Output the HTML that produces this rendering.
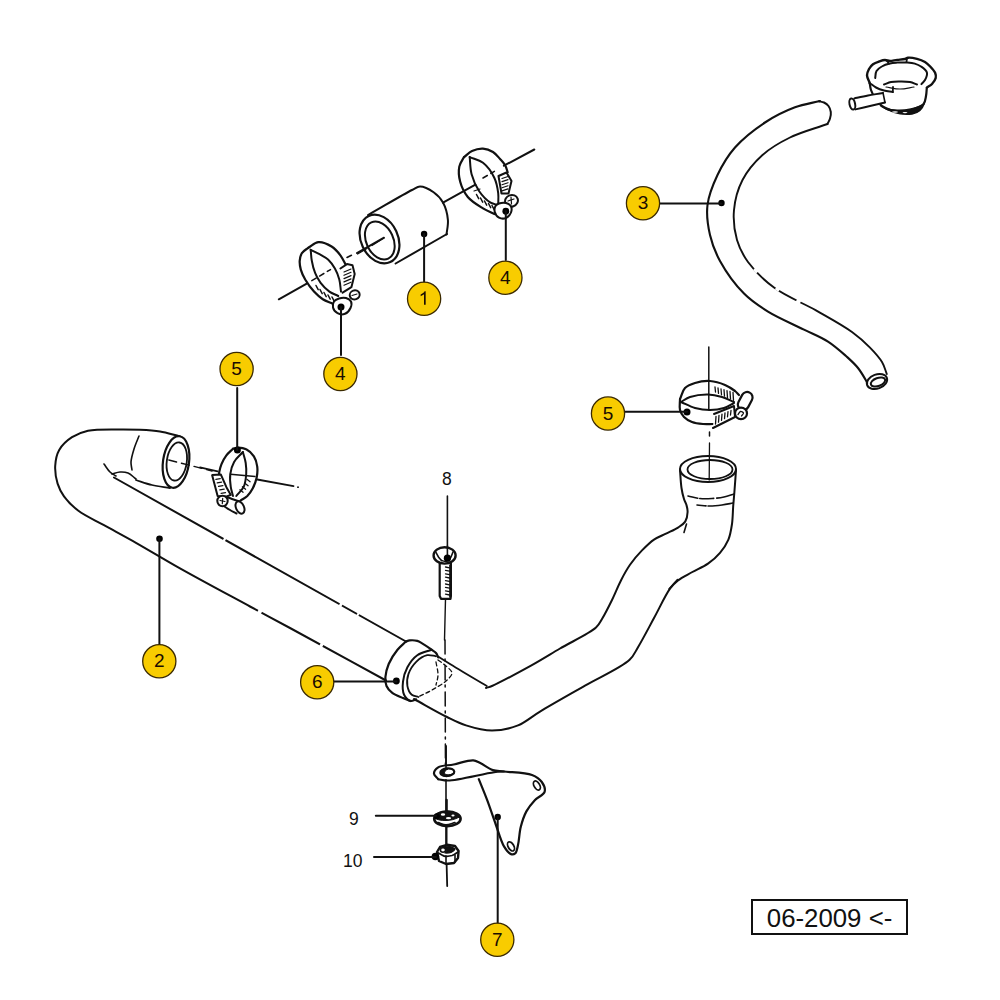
<!DOCTYPE html>
<html><head><meta charset="utf-8"><style>
html,body{margin:0;padding:0;background:#fff;}
body{width:1000px;height:1000px;overflow:hidden;position:relative;font-family:"Liberation Sans",sans-serif;}
svg{position:absolute;left:0;top:0;}
.stamp{position:absolute;left:750.7px;top:898.8px;width:157px;height:36px;box-sizing:border-box;border:2.7px solid #111;}
</style></head><body>
<svg width="1000" height="1000" viewBox="0 0 1000 1000" stroke="#111" stroke-linecap="round" stroke-linejoin="round" style="font-family:'Liberation Sans',sans-serif">
<path d="M180.0,436.4 C173.3,434.8 166.7,432.6 160.0,431.5 C153.4,430.4 146.7,430.1 140.0,429.8 C133.3,429.5 127.4,429.3 120.0,429.4 C110.6,429.5 96.7,428.9 88.0,430.8 C81.6,432.2 76.8,434.1 72.0,437.2 C67.1,440.4 62.0,445.1 59.2,450.0 C56.5,454.7 55.5,460.5 55.2,466.0 C54.9,471.7 56.0,478.3 57.6,483.6 C59.1,488.3 61.0,492.2 64.0,496.4 C67.6,501.4 72.6,506.4 78.4,510.8 C85.4,516.1 95.0,520.2 104.0,525.2 C114.1,530.8 124.5,536.3 136.0,542.8 C149.5,550.5 163.6,559.1 180.0,568.4 C200.6,580.0 229.9,595.6 250.0,606.5 C265.2,614.7 273.8,619.2 290.0,628.0 C315.1,641.6 354.0,663.0 386.0,680.5" stroke-width="2" fill="none" />
<path d="M114.0,477.5 L406.0,641.5" stroke-width="2" fill="none" />
<path d="M104.0,464.0 C106.0,466.7 107.8,469.9 110.0,472.0 C111.9,473.8 114.0,474.7 116.0,476.0" stroke-width="1.6" fill="none" />
<path d="M112.0,474.0 C114.7,473.3 117.3,472.2 120.0,472.0 C122.7,471.8 125.5,472.0 128.0,473.0 C130.8,474.1 133.3,477.0 136.0,479.0" stroke-width="1.6" fill="none" />
<path d="M170.0,488.0 C164.0,487.0 157.8,486.4 152.0,485.0 C146.5,483.7 141.3,481.7 136.0,480.0" stroke-width="1.8" fill="none" />
<path d="M139.0,436.0 C137.3,440.3 135.3,444.6 134.0,449.0 C132.7,453.3 131.2,458.2 131.0,462.0 C130.8,465.0 131.7,467.3 132.0,470.0" stroke-width="1.6" fill="none" />
<ellipse cx="176" cy="462" rx="13" ry="26" transform="rotate(8 176 462)" stroke-width="2.2" fill="#fff" />
<ellipse cx="176.8" cy="461.5" rx="10" ry="19.2" transform="rotate(8 176.8 461.5)" stroke-width="1.8" fill="none" />
<path d="M438.0,656.5 C443.9,660.2 448.9,663.4 455.6,667.5 C464.5,672.9 476.4,679.8 486.8,686.0" stroke-width="1.8" fill="none" />
<path d="M486.0,688.0 C488.0,687.3 489.2,687.2 492.0,686.0 C499.4,682.9 519.0,672.2 531.0,665.6 C541.5,659.8 549.8,654.5 560.0,648.5 C571.3,641.9 589.3,633.7 596.0,627.6 C599.3,624.5 599.9,622.5 602.0,619.0 C605.1,614.0 608.8,606.5 612.0,600.0 C615.2,593.5 618.0,586.1 621.2,580.0 C624.0,574.5 626.6,569.7 630.0,564.8 C633.5,559.8 637.8,554.7 642.0,550.4 C645.9,546.4 649.8,542.5 654.0,539.6 C657.8,537.0 662.0,535.6 666.0,533.6 C670.0,531.6 674.6,529.8 678.0,527.6 C680.8,525.7 683.6,524.1 685.2,521.6 C686.8,519.0 687.5,515.0 687.6,512.0 C687.7,509.4 687.0,507.0 686.4,504.8 C685.8,502.7 684.7,501.3 684.0,499.0 C683.0,495.9 682.1,492.1 681.5,488.0 C680.7,482.8 680.5,476.0 680.0,470.0" stroke-width="2" fill="none" />
<line x1="684" y1="532.4" x2="686.5" y2="524" stroke-width="1.6" />
<path d="M414.0,699.0 C425.0,705.0 437.4,712.3 447.0,717.0 C454.1,720.5 459.0,723.2 466.0,725.4 C473.9,727.9 483.3,730.6 492.0,730.6 C500.7,730.6 510.0,728.6 518.0,725.4 C526.0,722.2 531.3,716.8 540.0,711.6 C552.3,704.2 570.0,694.3 585.0,685.7 C599.9,677.1 621.0,667.9 629.6,659.8 C634.2,655.4 634.9,652.4 638.0,647.2 C642.6,639.6 648.7,627.8 654.0,618.0 C659.4,608.2 665.4,594.9 670.2,588.4 C673.0,584.6 674.8,582.9 678.0,580.4 C681.9,577.3 687.5,574.8 692.4,572.0 C697.5,569.2 703.3,566.9 708.0,563.6 C712.5,560.5 716.6,556.8 720.0,552.8 C723.4,548.8 726.4,544.4 728.4,539.6 C730.4,534.8 731.2,529.4 732.0,524.0 C732.8,518.2 732.8,511.6 733.2,506.0 C733.6,501.0 734.0,497.2 734.4,492.0 C734.9,485.5 735.5,477.3 736.0,470.0" stroke-width="2" fill="none" />
<line x1="669" y1="589" x2="677.5" y2="579.5" stroke-width="1.6" />
<ellipse cx="708" cy="469" rx="28" ry="13" transform="rotate(0 708 469)" stroke-width="2" fill="#fff" />
<ellipse cx="710" cy="469.5" rx="22.5" ry="9.5" transform="rotate(0 710 469.5)" stroke-width="1.8" fill="none" />
<path d="M688.0,496.0 C692.0,496.8 696.0,498.1 700.0,498.5 C704.0,498.9 708.0,498.7 712.0,498.5 C716.0,498.3 720.2,497.8 724.0,497.0 C727.5,496.3 730.7,495.0 734.0,494.0" stroke-width="1.6" fill="none" stroke-dasharray="10 2 14 3 30"/>
<path d="M697.0,505.0 C701.3,505.3 705.8,506.0 710.0,506.0 C714.1,506.0 718.1,505.5 722.0,505.0 C725.8,504.5 729.3,503.7 733.0,503.0" stroke-width="1.6" fill="none" stroke-dasharray="9 2 30"/>
<path d="M406.0,641.5 C403.2,644.2 400.2,646.4 397.5,649.7 C394.3,653.6 390.7,659.2 388.7,664.0 C386.9,668.3 385.7,673.0 385.4,677.0 C385.2,680.3 385.4,683.4 386.5,686.0 C387.6,688.6 389.6,690.7 392.0,692.6 C394.9,694.9 399.6,696.5 403.0,698.0 C405.8,699.2 408.1,700.0 410.7,701.0" stroke-width="2.2" fill="none" />
<path d="M406.0,641.5 C407.2,641.1 408.2,640.6 409.6,640.4 C411.7,640.2 415.1,640.3 417.3,640.9 C419.0,641.4 420.0,642.1 421.7,643.1 C424.4,644.7 429.0,647.8 431.6,649.7 C433.4,651.0 434.9,651.7 436.0,653.0 C437.1,654.3 437.5,655.9 438.2,657.4" stroke-width="2.2" fill="none" />
<path d="M431.6,649.7 C426.8,651.5 421.3,652.3 417.3,655.2 C413.2,658.1 409.8,662.8 407.4,667.3 C405.1,671.7 403.5,676.9 403.0,681.6 C402.5,686.0 402.5,691.4 404.1,694.8 C405.4,697.6 408.4,700.5 410.7,701.0 C412.5,701.4 414.4,699.8 416.2,699.2" stroke-width="2" fill="none" />
<path d="M436.0,656.3 C433.1,655.9 430.2,654.6 427.2,655.2 C423.6,656.0 419.3,658.8 416.2,661.8 C413.0,665.0 409.9,669.7 408.5,673.9 C407.2,677.8 406.7,682.4 407.4,686.0 C408.0,689.3 409.7,693.0 411.8,694.8 C413.6,696.3 416.2,696.3 418.4,697.0" stroke-width="1.8" fill="none" />
<path d="M438.0,660.0 C440.7,662.0 443.6,663.8 446.0,666.0 C448.3,668.1 451.9,670.6 452.0,673.0 C452.1,675.5 448.7,678.5 446.0,681.0 C442.5,684.2 436.7,687.3 432.0,690.0 C427.4,692.6 422.7,694.7 418.0,697.0" stroke-width="1.3" fill="none" stroke-dasharray="4 3"/>
<path d="M436.0,662.0 C436.7,666.3 438.1,671.0 438.0,675.0 C437.9,678.6 436.7,681.7 436.0,685.0" stroke-width="1.3" fill="none" stroke-dasharray="4 3"/>
<line x1="445.5" y1="599" x2="444.5" y2="640" stroke-width="1.4" />
<line x1="445" y1="640" x2="445.5" y2="780" stroke-width="1.5" stroke-dasharray="14 5 2 5"/>
<line x1="446" y1="746" x2="446" y2="845" stroke-width="1.6" />
<line x1="447.4" y1="496" x2="447.4" y2="556" stroke-width="1.6" />
<path d="M439.7,560.0 L439.7,596.0 L441.0,598.8 L450.5,598.8 L450.9,596.0 L450.9,560.0" stroke-width="2.2" fill="#fff" />
<ellipse cx="444.6" cy="555.4" rx="11" ry="8.2" transform="rotate(0 444.6 555.4)" stroke-width="2.4" fill="#fff" />
<path d="M436.0,552.5 C436.8,554.0 437.6,555.6 438.5,557.0 C439.4,558.3 440.5,559.3 441.5,560.5" stroke-width="1.6" fill="none" />
<path d="M453.0,552.0 C452.3,553.7 451.7,555.5 451.0,557.0 C450.4,558.3 449.7,559.3 449.0,560.5" stroke-width="1.6" fill="none" />
<path d="M441.5,560.5 C442.8,560.8 444.2,561.5 445.5,561.5 C446.7,561.5 447.8,560.8 449.0,560.5" stroke-width="1.4" fill="none" />
<line x1="447.4" y1="546" x2="447.4" y2="556" stroke-width="1.6" />
<line x1="445.5" y1="567.0" x2="449.5" y2="567.8" stroke-width="1.3" />
<line x1="445.5" y1="570.4" x2="449.5" y2="571.1999999999999" stroke-width="1.3" />
<line x1="445.5" y1="573.8" x2="449.5" y2="574.5999999999999" stroke-width="1.3" />
<line x1="445.5" y1="577.2" x2="449.5" y2="578.0" stroke-width="1.3" />
<line x1="445.5" y1="580.6" x2="449.5" y2="581.4" stroke-width="1.3" />
<line x1="445.5" y1="584.0" x2="449.5" y2="584.8" stroke-width="1.3" />
<line x1="445.5" y1="587.4" x2="449.5" y2="588.1999999999999" stroke-width="1.3" />
<line x1="445.5" y1="590.8" x2="449.5" y2="591.5999999999999" stroke-width="1.3" />
<line x1="445.5" y1="594.2" x2="449.5" y2="595.0" stroke-width="1.3" />
<line x1="449.8" y1="565" x2="449.8" y2="597" stroke-width="1.2" />
<circle cx="447.4" cy="558.2" r="3.6" fill="#000" stroke="none"/>
<path d="M438.2,779.2 C436.8,777.3 434.1,775.5 434.0,773.6 C433.9,771.6 435.9,768.8 438.2,767.3 C441.5,765.1 448.2,765.6 453.6,764.5 C459.7,763.3 468.4,759.9 473.2,760.3 C476.2,760.6 477.6,761.9 480.2,763.1 C483.8,764.8 488.6,768.7 492.8,770.1 C496.5,771.3 499.4,770.9 504.0,771.5 C511.2,772.4 525.3,772.4 532.0,775.0 C536.4,776.7 539.7,779.0 541.8,782.0 C543.7,784.7 545.5,788.9 544.6,791.8 C543.6,795.1 537.8,797.0 534.8,800.2 C531.7,803.5 528.7,807.2 526.4,811.4 C523.9,816.0 522.2,821.4 520.8,826.8 C519.3,832.5 519.2,840.1 518.0,845.0 C517.2,848.4 516.8,852.1 515.2,853.4 C514.1,854.3 512.4,854.6 511.0,854.1 C508.8,853.3 506.1,849.9 504.0,846.4 C500.8,841.1 498.4,831.6 495.6,824.0 C492.8,816.2 490.1,807.9 487.2,800.2 C484.5,793.0 481.6,786.2 478.8,779.2" stroke-width="2.2" fill="#fff" />
<path d="M438.2,779.2 C441.5,779.7 443.5,780.7 448.0,780.6 C457.7,780.4 484.5,773.4 494.2,772.2 C498.7,771.6 500.7,771.7 504.0,771.5" stroke-width="2" fill="none" />
<ellipse cx="447.3" cy="772.2" rx="7" ry="3.8" transform="rotate(-5 447.3 772.2)" stroke-width="2.2" fill="none" />
<path d="M441,773 C441.5,769.5 445,768.8 448,769 C446,770 444,771.5 444.5,773.5 C446,775.5 450,775 453,773.8 C451,776.5 446,777 443,776 C441.5,775.3 441,774 441,773Z" stroke-width="1" fill="#111" />
<line x1="446" y1="746" x2="446" y2="769" stroke-width="1.6" />
<ellipse cx="536.9" cy="785.5" rx="2.8" ry="5" transform="rotate(-30 536.9 785.5)" stroke-width="1.8" fill="none" />
<ellipse cx="511" cy="846.4" rx="2.8" ry="5" transform="rotate(-30 511 846.4)" stroke-width="1.8" fill="none" />
<circle cx="497.7" cy="817" r="3.2" fill="#000" stroke="none"/>
<line x1="497.7" y1="817" x2="497.7" y2="923" stroke-width="2" />
<ellipse cx="447.4" cy="818.8" rx="13.2" ry="7.3" transform="rotate(0 447.4 818.8)" stroke-width="2.6" fill="#fff" />
<path d="M435,818 C435,812.5 441,811.2 447,811.2 C453,811.2 458,813 459.5,817 C455,819.5 450,820.5 446,820.5 C441,820.5 437,820 435,818Z" stroke-width="1" fill="#111" />
<ellipse cx="443" cy="814.5" rx="2.2" ry="1.2" transform="rotate(0 443 814.5)" stroke-width="0" fill="#fff" />
<ellipse cx="448.5" cy="818.2" rx="2.6" ry="1.1" transform="rotate(0 448.5 818.2)" stroke-width="0" fill="#fff" />
<ellipse cx="453" cy="815.5" rx="1.6" ry="1" transform="rotate(0 453 815.5)" stroke-width="0" fill="#fff" />
<path d="M438.0,822.5 C440.7,823.3 443.2,824.8 446.0,824.8 C448.9,824.8 452.0,823.3 455.0,822.5" stroke-width="1.6" fill="none" />
<circle cx="436.8" cy="816.3" r="3" fill="#000" stroke="none"/>
<line x1="375.8" y1="815.8" x2="436" y2="815.8" stroke-width="2" />
<line x1="446.6" y1="800" x2="446.6" y2="811" stroke-width="2.4" />
<path d="M437.0,852.0 L440.0,847.0 L447.0,844.8 L455.0,846.0 L458.6,851.0 L458.0,858.0 L454.0,863.0 L446.0,864.0 L439.0,861.0Z" stroke-width="2.4" fill="#fff" />
<path d="M438.5,853.0 C440.3,854.0 441.9,855.5 444.0,856.0 C446.4,856.5 449.6,856.2 452.0,855.5 C454.2,854.8 456.0,853.2 458.0,852.0" stroke-width="1.8" fill="none" />
<line x1="446" y1="856" x2="446" y2="863.5" stroke-width="1.6" />
<line x1="455" y1="855" x2="455" y2="862" stroke-width="1.6" />
<path d="M443,847 C446,845.5 452,846 455,849 C454,852 449,853.5 445,853 C447,851 447,849 443,847Z" stroke-width="1.2" fill="#111" />
<ellipse cx="443" cy="850" rx="2.6" ry="2.2" transform="rotate(0 443 850)" stroke-width="1.6" fill="none" />
<circle cx="435.4" cy="856.5" r="3.8" fill="#000" stroke="none"/>
<line x1="374" y1="857" x2="436" y2="857" stroke-width="2" />
<line x1="446.6" y1="827" x2="446.6" y2="845" stroke-width="1.8" />
<line x1="446.6" y1="864" x2="447.2" y2="886" stroke-width="1.8" />
<path d="M820.0,101.0 C811.7,103.1 803.5,104.1 795.0,107.3 C785.3,110.9 774.7,116.1 765.0,122.5 C754.6,129.3 743.1,138.3 735.0,147.5 C727.6,155.9 722.1,165.3 717.5,175.0 C713.0,184.5 708.7,194.9 707.5,205.0 C706.3,214.9 707.8,225.5 710.0,235.0 C712.1,244.1 715.2,252.2 720.0,261.0 C725.8,271.6 735.3,284.8 744.0,293.6 C751.5,301.2 758.9,306.0 768.0,311.6 C778.5,318.1 793.2,324.2 804.0,329.6 C812.8,334.0 820.8,337.0 828.0,341.6 C834.7,345.9 840.7,351.3 846.0,356.0 C850.5,360.1 854.6,363.7 858.0,368.0 C861.3,372.1 864.5,377.9 866.4,381.2 C867.5,383.2 868.0,384.4 868.8,386.0" stroke-width="2.1" fill="none" />
<path d="M827.5,124.0 C815.0,128.5 801.3,132.0 790.0,137.5 C779.8,142.5 770.4,147.9 762.5,155.0 C754.6,162.1 747.3,170.8 742.5,180.0 C737.8,189.1 734.9,199.9 734.0,210.0 C733.1,219.9 734.4,231.0 737.0,240.0 C739.4,248.1 742.8,254.8 748.0,262.0 C754.4,270.8 763.7,279.9 774.0,287.6 C785.8,296.4 802.6,302.8 816.0,310.4 C828.5,317.6 842.3,325.0 852.0,332.0 C859.3,337.3 864.8,342.3 870.0,347.6 C874.6,352.3 879.1,357.2 882.0,362.0 C884.4,366.0 885.2,370.0 886.8,374.0" stroke-width="1.9" fill="none" />
<path d="M819.0,101.3 C820.7,101.7 822.5,101.8 824.0,102.5 C825.6,103.3 827.4,104.5 828.5,106.0 C829.7,107.6 830.5,109.9 830.8,112.0 C831.1,114.1 830.6,116.5 830.0,118.5 C829.4,120.5 828.3,122.2 827.5,124.0" stroke-width="2" fill="none" />
<ellipse cx="877" cy="381.5" rx="10.5" ry="7" transform="rotate(-20 877 381.5)" stroke-width="2" fill="#fff" />
<ellipse cx="878" cy="382" rx="7.5" ry="4" transform="rotate(-20 878 382)" stroke-width="2" fill="none" />
<circle cx="721.5" cy="203" r="3.2" fill="#000" stroke="none"/>
<line x1="660" y1="203.4" x2="721.5" y2="203.4" stroke-width="2" />
<path d="M869.7,83.0 C870.1,85.3 870.2,87.6 871.0,90.0 C871.9,92.6 873.3,95.4 875.0,98.0 C876.8,100.8 879.0,103.9 881.8,106.0 C884.7,108.1 888.6,109.6 892.0,110.5 C895.2,111.4 898.2,111.8 901.6,111.6 C905.5,111.4 910.2,110.4 914.0,109.0 C917.5,107.7 921.6,106.4 923.6,104.0 C925.3,101.9 925.5,98.8 926.0,96.0 C926.6,93.0 926.6,89.5 926.9,86.3" stroke-width="2.2" fill="#fff" />
<path d="M881,106 C890,112 900,115.5 912,114 C918,113 922,110 924,104 C918,108 905,111 895,110 C888,109.5 884,108 881,106Z" stroke-width="1.5" fill="#111" />
<ellipse cx="895" cy="112" rx="3" ry="0.8" transform="rotate(0 895 112)" stroke-width="0" fill="#fff" />
<ellipse cx="905" cy="112.6" rx="2.5" ry="0.7" transform="rotate(0 905 112.6)" stroke-width="0" fill="#fff" />
<path d="M869.7,83.0 C868.8,80.4 867.0,77.7 867.0,75.3 C867.0,73.1 868.0,70.9 869.0,69.0 C870.0,67.2 871.4,65.5 873.0,64.3 C874.7,63.0 877.0,62.2 879.0,61.5 C881.0,60.8 883.1,60.0 885.0,60.0 C886.7,60.0 888.2,61.0 890.0,61.0 C892.2,61.0 894.7,60.2 897.2,59.9 C899.7,59.6 903.0,59.5 905.0,59.0 C906.3,58.7 906.7,57.9 908.0,57.7 C910.2,57.4 914.1,58.1 917.0,58.8 C919.8,59.5 922.7,60.6 925.0,62.0 C927.0,63.2 928.6,64.8 930.2,66.5 C932.0,68.4 934.3,70.9 935.2,73.0 C935.9,74.7 936.1,76.3 935.7,78.0 C935.2,80.0 933.5,82.4 932.0,84.0 C930.6,85.5 928.6,86.3 926.9,87.5" stroke-width="2.4" fill="#fff" />
<line x1="886" y1="60" x2="889" y2="63.5" stroke-width="1.8" />
<line x1="907" y1="58" x2="906.5" y2="61.5" stroke-width="1.8" />
<path d="M875.2,78.0 C875.6,75.7 875.4,72.9 876.5,71.0 C877.6,69.1 879.7,67.7 881.8,66.5 C884.1,65.1 887.3,64.1 890.0,63.5 C892.4,62.9 894.7,62.8 897.2,62.6 C900.0,62.4 903.1,62.3 906.0,62.5 C908.9,62.7 912.2,62.8 914.8,63.6 C917.1,64.3 919.1,65.1 921.0,66.5 C923.1,68.0 926.3,70.2 926.9,72.5 C927.5,74.7 926.1,78.0 925.0,80.0 C924.1,81.7 922.6,82.7 921.4,84.1" stroke-width="2" fill="none" />
<path d="M869.7,83.0 C871.8,84.5 873.7,86.3 876.0,87.5 C878.4,88.8 881.2,89.8 884.0,90.5 C886.8,91.3 889.9,91.5 892.8,92.0" stroke-width="2" fill="none" />
<line x1="892.8" y1="92" x2="893" y2="87" stroke-width="1.8" />
<path d="M884.0,84.5 C886.3,83.7 888.5,82.5 891.0,82.0 C893.8,81.4 896.9,81.5 900.0,81.5 C903.2,81.5 907.0,81.4 910.0,82.0 C912.6,82.5 914.7,83.7 917.0,84.5" stroke-width="2" fill="none" />
<path d="M886.0,87.0 C890.7,87.7 895.3,89.0 900.0,89.0 C904.7,89.0 909.3,87.7 914.0,87.0" stroke-width="1.2" fill="none" />
<path d="M854.3,98.4 L883,92.9 L885,103 L855.4,109.4Z" stroke-width="0" fill="#fff" />
<path d="M854.3,98.4 C858.9,97.4 863.3,96.4 868.0,95.5 C872.9,94.6 878.0,93.8 883.0,92.9" stroke-width="2" fill="none" />
<path d="M855.4,109.4 C860.3,108.3 865.1,107.1 870.0,106.0 C875.0,104.8 880.0,103.7 885.0,102.5" stroke-width="2" fill="none" />
<line x1="883" y1="92.9" x2="885" y2="102.5" stroke-width="1.6" />
<ellipse cx="852.3" cy="104" rx="2.8" ry="5.6" transform="rotate(-12 852.3 104)" stroke-width="2" fill="#fff" />
<path d="M395.6,263.5 L447.0,234.0" stroke-width="2" fill="none" />
<path d="M368.0,215.0 C382.7,206.7 403.2,194.4 412.0,190.0 C415.7,188.2 417.0,186.5 420.0,186.5 C423.9,186.5 429.7,189.5 433.6,192.3 C437.4,195.0 440.8,198.5 443.1,202.7 C445.7,207.4 447.4,214.3 447.9,219.8 C448.4,224.8 447.0,229.6 446.5,234.5" stroke-width="2" fill="none" />
<ellipse cx="379.5" cy="239" rx="18.5" ry="25.5" transform="rotate(-25 379.5 239)" stroke-width="2.2" fill="#fff" />
<ellipse cx="379.8" cy="240.5" rx="13.5" ry="20" transform="rotate(-25 379.8 240.5)" stroke-width="2" fill="none" />
<line x1="357.6" y1="254" x2="367" y2="248.5" stroke-width="1.4" />
<line x1="372" y1="245.5" x2="384" y2="238" stroke-width="1.4" />
<line x1="443" y1="202.7" x2="475.4" y2="184.6" stroke-width="2" />
<circle cx="424.1" cy="234" r="3.2" fill="#000" stroke="none"/>
<line x1="424.1" y1="234" x2="424.1" y2="282" stroke-width="2" />
<line x1="483" y1="178" x2="494.4" y2="171.4" stroke-width="1.5" stroke-dasharray="5 4"/>
<line x1="503.9" y1="165.7" x2="534.3" y2="149.5" stroke-width="2" />
<path d="M464.0,157.1 C466.7,155.1 468.9,152.4 472.0,151.0 C475.2,149.5 479.4,148.4 483.0,148.6 C486.4,148.8 490.1,150.2 493.0,152.0 C495.8,153.7 498.0,156.7 500.1,159.0 C501.9,161.0 503.7,162.8 505.0,165.0 C506.3,167.2 506.8,169.9 507.7,172.3" stroke-width="2.2" fill="none" />
<path d="M464.0,157.1 C462.4,160.3 460.0,163.0 459.3,166.6 C458.4,171.0 458.9,176.9 460.2,181.8 C461.6,187.0 464.2,192.6 467.8,197.0 C471.6,201.6 478.2,205.4 483.0,208.4 C487.0,210.8 490.6,212.2 494.4,214.1" stroke-width="2.2" fill="none" />
<path d="M469.7,157.1 C470.3,162.8 470.1,168.6 471.6,174.2 C473.2,180.0 475.9,186.4 479.2,191.3 C482.3,195.8 486.9,200.5 490.6,202.7 C493.2,204.3 495.7,204.2 498.2,205.0" stroke-width="2" fill="none" />
<path d="M469.7,157.1 C474.1,159.0 479.1,159.7 483.0,162.8 C487.5,166.3 491.9,172.7 494.4,178.0 C496.7,182.8 497.6,188.4 498.2,193.2 C498.7,197.3 498.2,201.1 498.2,205.0" stroke-width="2" fill="none" />
<line x1="476.5" y1="194.5" x2="478.7" y2="198.7" stroke-width="1.5" />
<line x1="480.5" y1="198" x2="482.7" y2="202.2" stroke-width="1.5" />
<line x1="484.5" y1="201" x2="486.7" y2="205.2" stroke-width="1.5" />
<line x1="488.5" y1="203.5" x2="490.7" y2="207.7" stroke-width="1.5" />
<line x1="492" y1="205.5" x2="494.2" y2="209.7" stroke-width="1.5" />
<line x1="474" y1="191" x2="480" y2="189" stroke-width="1.2" />
<path d="M498.5,176.0 L506.5,172.5 L511.5,181.0 L508.5,193.5 L501.5,193.5Z" stroke-width="2" fill="#fff" />
<line x1="502" y1="178.5" x2="508" y2="176.5" stroke-width="1.2" />
<line x1="502" y1="181.6" x2="508" y2="179.6" stroke-width="1.2" />
<line x1="502" y1="184.7" x2="508" y2="182.7" stroke-width="1.2" />
<line x1="502" y1="187.8" x2="508" y2="185.8" stroke-width="1.2" />
<line x1="502" y1="190.9" x2="508" y2="188.9" stroke-width="1.2" />
<ellipse cx="511.5" cy="200.8" rx="6.5" ry="5.8" transform="rotate(-20 511.5 200.8)" stroke-width="2" fill="#fff" />
<line x1="508" y1="201" x2="514" y2="199" stroke-width="1.2" />
<line x1="511" y1="197" x2="511.5" y2="204" stroke-width="1.2" />
<path d="M495.5,206.0 C494.6,207.5 494.3,210.1 494.8,212.0 C495.3,214.0 497.1,216.6 499.0,217.6 C500.9,218.6 504.0,218.8 506.0,218.0 C508.0,217.2 510.2,214.5 511.0,212.5 C511.7,210.7 511.8,208.1 511.0,206.5 C510.2,204.9 507.9,203.5 506.0,203.0 C503.9,202.4 500.9,202.8 499.0,203.5 C497.5,204.0 496.2,204.8 495.5,206.0Z" stroke-width="2" fill="#fff" />
<circle cx="505.8" cy="211.25" r="3.4" fill="#000" stroke="none"/>
<line x1="505.8" y1="211.25" x2="505.8" y2="260" stroke-width="2" />
<line x1="278.8" y1="299.3" x2="306.3" y2="283.9" stroke-width="2" />
<line x1="311.8" y1="280.6" x2="330.5" y2="269.6" stroke-width="1.5" stroke-dasharray="5 4"/>
<line x1="347" y1="257.5" x2="351.4" y2="255.3" stroke-width="1.6" />
<line x1="356.9" y1="253.1" x2="384" y2="237.6" stroke-width="1.8" />
<path d="M308.5,247.6 C311.8,245.8 314.8,242.4 318.4,242.1 C322.4,241.7 327.9,244.2 331.6,246.5 C335.1,248.7 338.0,252.1 340.4,255.3 C342.7,258.4 344.1,261.9 345.9,265.2" stroke-width="2.2" fill="none" />
<path d="M308.5,247.6 C306.3,249.4 303.4,250.8 301.9,253.1 C300.5,255.3 299.9,258.1 299.7,260.8 C299.5,263.6 300.0,266.6 300.8,269.6 C301.7,272.9 303.3,276.1 305.2,279.5 C307.5,283.4 310.9,288.2 314.0,291.6 C316.8,294.6 319.6,297.3 322.8,299.3 C325.9,301.3 329.4,302.2 332.7,303.7" stroke-width="2.2" fill="none" />
<path d="M310.7,249.8 C311.1,253.5 311.1,257.1 311.8,260.8 C312.5,264.8 313.6,269.2 315.1,272.9 C316.5,276.5 318.3,279.7 320.6,282.8 C323.0,286.0 326.3,289.3 329.4,291.6 C332.2,293.6 335.3,294.5 338.2,296.0" stroke-width="2" fill="none" />
<path d="M310.7,249.8 C313.6,251.3 316.6,252.6 319.5,254.2 C322.5,255.9 325.8,257.4 328.3,259.7 C330.9,262.1 333.1,265.3 334.9,268.5 C336.8,271.8 338.3,275.7 339.3,279.5 C340.3,283.4 340.4,287.6 341.0,291.6" stroke-width="2" fill="none" />
<line x1="316" y1="285.5" x2="318.2" y2="289.7" stroke-width="1.5" />
<line x1="320" y1="289.5" x2="322.2" y2="293.7" stroke-width="1.5" />
<line x1="324" y1="292.5" x2="326.2" y2="296.7" stroke-width="1.5" />
<line x1="328" y1="295" x2="330.2" y2="299.2" stroke-width="1.5" />
<line x1="332" y1="297" x2="334.2" y2="301.2" stroke-width="1.5" />
<path d="M340.4,268.5 L347.0,264.1 L352.5,265.2 L354.7,274.0 L351.4,287.2 L342.6,292.7" stroke-width="2" fill="#fff" />
<line x1="344" y1="272.0" x2="351" y2="269.0" stroke-width="1.2" />
<line x1="344" y1="275.3" x2="351" y2="272.3" stroke-width="1.2" />
<line x1="344" y1="278.6" x2="351" y2="275.6" stroke-width="1.2" />
<line x1="344" y1="281.9" x2="351" y2="278.9" stroke-width="1.2" />
<line x1="344" y1="285.2" x2="351" y2="282.2" stroke-width="1.2" />
<ellipse cx="354.7" cy="294.9" rx="5" ry="4.5" transform="rotate(-20 354.7 294.9)" stroke-width="2" fill="#fff" />
<line x1="352" y1="295.5" x2="357" y2="294" stroke-width="1.1" />
<path d="M334.0,301.5 C333.0,303.0 332.5,305.6 333.0,307.5 C333.5,309.5 335.5,312.1 337.5,313.2 C339.5,314.3 342.9,314.6 345.0,313.8 C347.2,313.0 349.5,310.2 350.5,308.0 C351.4,306.0 351.8,303.2 351.0,301.5 C350.2,299.9 347.9,298.5 346.0,298.0 C343.9,297.4 341.1,297.8 339.0,298.5 C337.1,299.1 335.0,300.0 334.0,301.5Z" stroke-width="2" fill="#fff" />
<circle cx="341" cy="307" r="3.5" fill="#000" stroke="none"/>
<line x1="341" y1="307" x2="341" y2="355" stroke-width="2" />
<line x1="200" y1="467.4" x2="217.6" y2="471.3" stroke-width="1.8" />
<line x1="257.2" y1="479.5" x2="293.5" y2="486.1" stroke-width="1.8" />
<circle cx="298" cy="487.2" r="0.9" fill="#000" stroke="none"/>
<line x1="168.8" y1="460" x2="212" y2="471" stroke-width="1.4" stroke-dasharray="8 5"/>
<path d="M233.0,448.7 C234.8,448.3 236.5,447.6 238.5,447.6 C240.9,447.6 243.8,448.0 246.2,449.3 C249.0,450.7 252.1,453.6 253.9,456.4 C255.7,459.2 256.7,462.9 257.2,466.3 C257.7,469.8 257.4,473.7 256.7,477.3 C256.0,481.0 254.5,485.1 252.8,488.3 C251.3,491.2 249.4,493.9 247.3,496.0 C245.3,497.9 242.9,498.9 240.7,500.4" stroke-width="2.2" fill="none" />
<path d="M233.0,448.7 C230.8,450.9 228.3,452.8 226.4,455.3 C224.4,457.9 222.7,461.2 221.5,464.1 C220.4,466.7 219.8,469.3 219.3,471.8 C218.9,474.1 218.9,476.2 218.7,478.4" stroke-width="2.2" fill="none" />
<path d="M242.9,452.0 C240.0,455.3 236.2,458.2 234.1,461.9 C232.0,465.5 230.9,469.8 230.3,474.0 C229.7,478.3 230.2,483.3 230.8,487.2 C231.3,490.5 232.3,493.1 233.0,496.0" stroke-width="2" fill="none" />
<path d="M242.9,452.0 C243.8,455.7 245.2,459.3 245.7,463.0 C246.2,466.6 246.5,470.3 246.2,474.0 C245.9,478.0 245.6,482.4 244.0,486.1 C242.4,489.8 238.9,492.7 236.3,496.0" stroke-width="2" fill="none" />
<line x1="230.5" y1="474.2" x2="255" y2="476.5" stroke-width="1.4" />
<line x1="239.9" y1="489.8" x2="243.1" y2="492.2" stroke-width="1.3" />
<line x1="242.4" y1="486.8" x2="245.6" y2="489.2" stroke-width="1.3" />
<line x1="244.9" y1="483.3" x2="248.1" y2="485.7" stroke-width="1.3" />
<line x1="246.9" y1="479.3" x2="250.1" y2="481.7" stroke-width="1.3" />
<path d="M212.1,475.1 L220.9,474.6 L226.4,487.2 L230.8,494.9 L225.3,497.0 L217.6,496.0Z" stroke-width="2" fill="#fff" />
<line x1="215.88645000000002" y1="479.3" x2="220.28645" y2="478.7" stroke-width="1.2" />
<line x1="217.2007" y1="482.8" x2="221.6007" y2="482.2" stroke-width="1.2" />
<line x1="218.51495" y1="486.3" x2="222.91494999999998" y2="485.7" stroke-width="1.2" />
<line x1="219.82920000000001" y1="489.8" x2="224.2292" y2="489.2" stroke-width="1.2" />
<line x1="221.14345" y1="493.3" x2="225.54344999999998" y2="492.7" stroke-width="1.2" />
<path d="M225,496.5 L239.5,501.5 L236.5,513.5 L224.5,506.5Z" stroke-width="0" fill="#fff" />
<path d="M225.0,496.5 C227.3,497.3 229.6,498.2 232.0,499.0 C234.5,499.8 237.0,500.7 239.5,501.5" stroke-width="2" fill="none" />
<path d="M224.5,506.5 C226.3,507.7 228.1,508.9 230.0,510.0 C232.1,511.2 234.3,512.3 236.5,513.5" stroke-width="2" fill="none" />
<ellipse cx="240" cy="507.5" rx="4" ry="6.5" transform="rotate(-25 240 507.5)" stroke-width="2" fill="#fff" />
<ellipse cx="222.5" cy="501" rx="5.2" ry="5.2" transform="rotate(0 222.5 501)" stroke-width="2" fill="#fff" />
<line x1="220" y1="500.5" x2="225" y2="501.5" stroke-width="1.2" />
<line x1="222.7" y1="498.3" x2="222.3" y2="503.7" stroke-width="1.2" />
<circle cx="237.4" cy="450" r="3.5" fill="#000" stroke="none"/>
<line x1="237.2" y1="388" x2="237.2" y2="450" stroke-width="2" />
<line x1="708.8" y1="347" x2="708.8" y2="410" stroke-width="1.5" />
<line x1="709.5" y1="432" x2="709.5" y2="436" stroke-width="1.5" />
<path d="M680.0,399.0 C681.7,395.3 682.4,390.7 685.0,388.0 C687.5,385.4 691.2,384.2 695.0,383.0 C699.4,381.6 705.0,380.7 710.0,381.0 C715.0,381.3 720.6,383.1 725.0,385.0 C728.8,386.6 732.5,389.1 735.0,391.0 C736.7,392.4 737.7,393.7 739.0,395.0" stroke-width="2.2" fill="none" />
<path d="M680.0,399.0 C680.0,402.7 679.2,406.8 680.0,410.0 C680.7,412.7 682.1,415.0 684.0,417.0 C686.0,419.1 689.0,420.8 692.0,422.0 C695.3,423.3 699.4,423.7 703.0,424.0 C706.4,424.3 709.7,424.0 713.0,424.0" stroke-width="2.2" fill="none" />
<path d="M681.0,402.0 C684.0,400.3 686.3,398.2 690.0,397.0 C694.9,395.4 702.4,394.4 708.0,394.5 C713.0,394.6 717.6,395.7 722.0,397.0 C726.2,398.2 730.0,400.3 734.0,402.0" stroke-width="2" fill="none" />
<path d="M681.0,402.0 C685.7,404.0 690.2,406.7 695.0,408.0 C699.8,409.3 705.1,410.0 710.0,410.0 C714.7,410.0 719.8,409.3 724.0,408.0 C727.7,406.8 730.7,404.7 734.0,403.0" stroke-width="2" fill="none" />
<line x1="715" y1="387.0" x2="715.5" y2="392.0" stroke-width="1.3" />
<line x1="718" y1="387.9" x2="718.5" y2="393.4" stroke-width="1.3" />
<line x1="721" y1="388.8" x2="721.5" y2="394.8" stroke-width="1.3" />
<line x1="724" y1="389.7" x2="724.5" y2="396.2" stroke-width="1.3" />
<line x1="727" y1="390.6" x2="727.5" y2="397.6" stroke-width="1.3" />
<line x1="730" y1="391.5" x2="730.5" y2="399.0" stroke-width="1.3" />
<line x1="733" y1="392.4" x2="733.5" y2="400.4" stroke-width="1.3" />
<path d="M714.0,414.0 L734.0,406.0 L735.0,417.0 L713.0,428.0" stroke-width="2" fill="#fff" />
<line x1="716" y1="416.5" x2="715.5" y2="424.0" stroke-width="1.3" />
<line x1="719" y1="415.3" x2="718.5" y2="422.2" stroke-width="1.3" />
<line x1="722" y1="414.1" x2="721.5" y2="420.4" stroke-width="1.3" />
<line x1="725" y1="412.9" x2="724.5" y2="418.6" stroke-width="1.3" />
<line x1="728" y1="411.7" x2="727.5" y2="416.8" stroke-width="1.3" />
<line x1="731" y1="410.5" x2="730.5" y2="415.0" stroke-width="1.3" />
<rect x="-9.5" y="-5.5" width="19" height="11" rx="5.5" transform="translate(745.2,401) rotate(-62)" stroke-width="2.2" fill="#fff"/>
<ellipse cx="741" cy="413.4" rx="6" ry="5.8" transform="rotate(0 741 413.4)" stroke-width="2.2" fill="#fff" />
<path d="M738.0,414.5 C738.8,413.5 739.5,411.7 740.5,411.5 C741.4,411.3 743.3,412.3 743.5,413.0 C743.7,413.8 742.2,415.0 741.5,416.0" stroke-width="1.3" fill="none" />
<circle cx="687" cy="412" r="3.5" fill="#000" stroke="none"/>
<line x1="625" y1="411.8" x2="687" y2="411.8" stroke-width="2" />
<line x1="709.5" y1="443" x2="709.2" y2="480" stroke-width="1.3" />
<line x1="223.5" y1="539.0" x2="225.5" y2="540.1232876712329" stroke="#fff" stroke-width="4" stroke-linecap="butt"/>
<line x1="339.5" y1="604.1506849315068" x2="342" y2="605.554794520548" stroke="#fff" stroke-width="4" stroke-linecap="butt"/>
<line x1="357" y1="613.9794520547946" x2="358.8" y2="614.9904109589041" stroke="#fff" stroke-width="4" stroke-linecap="butt"/>
<line x1="258" y1="610.8456310679611" x2="261.5" y2="612.7502427184465" stroke="#fff" stroke-width="4" stroke-linecap="butt"/>
<line x1="320" y1="644.5844660194175" x2="322.8" y2="646.1081553398058" stroke="#fff" stroke-width="4" stroke-linecap="butt"/>
<line x1="754.5" y1="268.8" x2="757.5" y2="272.2" stroke="#fff" stroke-width="4" stroke-linecap="butt"/>
<line x1="776" y1="287.6" x2="779.5" y2="290.2" stroke="#fff" stroke-width="4" stroke-linecap="butt"/>
<line x1="796.5" y1="300.3" x2="800.5" y2="302.2" stroke="#fff" stroke-width="4" stroke-linecap="butt"/>
<circle cx="159.5" cy="538.8" r="3.3" fill="#000" stroke="none"/>
<line x1="159.4" y1="538.8" x2="159.4" y2="645" stroke-width="2" />
<circle cx="396.4" cy="681" r="3.4" fill="#000" stroke="none"/>
<line x1="334" y1="681.6" x2="396.4" y2="681.6" stroke-width="2" />
<circle cx="424.1" cy="298.8" r="16.6" fill="#F8CC00" stroke="#3b2a00" stroke-width="1.3"/>
<path transform="translate(418.60,304.80) scale(0.009277,-0.009277)" d="M763 0H583V1147Q518 1085 412.5 1023Q307 961 223 930V1104Q374 1175 487 1276Q600 1377 647 1472H763Z" fill="#1a0d00" stroke="none"/>
<circle cx="505.4" cy="277.7" r="16.6" fill="#F8CC00" stroke="#3b2a00" stroke-width="1.3"/>
<text x="505.4" y="283.7" text-anchor="middle" font-size="19" fill="#1a0d00" stroke="none">4</text>
<circle cx="340.4" cy="374" r="16.6" fill="#F8CC00" stroke="#3b2a00" stroke-width="1.3"/>
<text x="340.4" y="380" text-anchor="middle" font-size="19" fill="#1a0d00" stroke="none">4</text>
<circle cx="643" cy="203.3" r="16.6" fill="#F8CC00" stroke="#3b2a00" stroke-width="1.3"/>
<text x="643" y="209.3" text-anchor="middle" font-size="19" fill="#1a0d00" stroke="none">3</text>
<circle cx="236.6" cy="369" r="16.6" fill="#F8CC00" stroke="#3b2a00" stroke-width="1.3"/>
<text x="236.6" y="375" text-anchor="middle" font-size="19" fill="#1a0d00" stroke="none">5</text>
<circle cx="608" cy="413.5" r="16.6" fill="#F8CC00" stroke="#3b2a00" stroke-width="1.3"/>
<text x="608" y="419.5" text-anchor="middle" font-size="19" fill="#1a0d00" stroke="none">5</text>
<circle cx="159.3" cy="661.2" r="16.6" fill="#F8CC00" stroke="#3b2a00" stroke-width="1.3"/>
<text x="159.3" y="667.2" text-anchor="middle" font-size="19" fill="#1a0d00" stroke="none">2</text>
<circle cx="317.2" cy="682.2" r="16.6" fill="#F8CC00" stroke="#3b2a00" stroke-width="1.3"/>
<text x="317.2" y="688.2" text-anchor="middle" font-size="19" fill="#1a0d00" stroke="none">6</text>
<circle cx="497.3" cy="939.8" r="16.6" fill="#F8CC00" stroke="#3b2a00" stroke-width="1.3"/>
<text x="497.3" y="945.8" text-anchor="middle" font-size="19" fill="#1a0d00" stroke="none">7</text>
<text x="446.8" y="484.8" text-anchor="middle" font-size="17.5" fill="#111" stroke="none">8</text>
<text x="353.8" y="825.2" text-anchor="middle" font-size="17.5" fill="#111" stroke="none">9</text>
<text x="352.7" y="866.6" text-anchor="middle" font-size="17.5" fill="#111" stroke="none">10</text>
<text x="766.8" y="926.9" font-size="25" fill="#111" stroke="none" textLength="125.5" lengthAdjust="spacingAndGlyphs">06-2009 &lt;-</text>
</svg>
<div class="stamp"></div>
</body></html>
